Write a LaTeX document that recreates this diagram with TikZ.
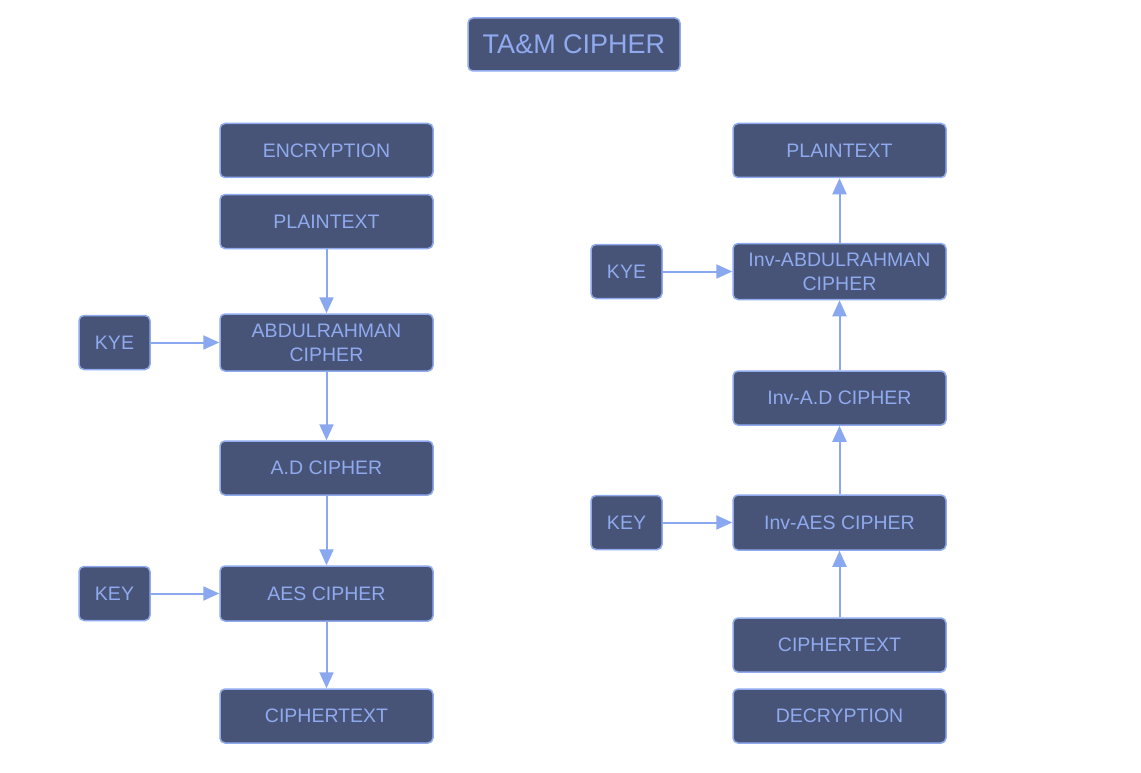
\documentclass[tikz,border=0pt]{standalone}
\usepackage{fontspec}
\setmainfont{Liberation Sans}
\usetikzlibrary{arrows.meta}
\definecolor{boxfill}{HTML}{485477}
\definecolor{boxtext}{HTML}{8FAAEE}
\definecolor{arrowc}{HTML}{8AA8F0}
\begin{document}
\begin{tikzpicture}[x=1pt,y=-1pt,
  box/.style={draw=boxtext, line width=1.5pt, fill=boxfill, rounded corners=5pt, text=boxtext,
    font=\fontsize{19.5}{24}\selectfont, align=center, inner sep=0pt},
  wide/.style={box, minimum width=213pt, minimum height=54pt},
  small/.style={box, minimum width=71pt, minimum height=54pt},
  arr/.style={draw=arrowc, line width=2pt, -{Triangle[length=16pt,width=14pt]}}]
\useasboundingbox (0,0) rectangle (1141,773);
\fill[white] (0,0) rectangle (1141,773);

\node[box, minimum width=212pt, minimum height=53pt, font=\fontsize{27}{32}\selectfont] (title) at (574,44.5) {TA\&M CIPHER};

% Encryption column
\node[wide] (enc) at (326.5,150.5) {ENCRYPTION};
\node[wide] (pt1) at (326.5,221.5) {PLAINTEXT};
\node[wide, minimum height=57pt] (abd) at (326.5,342.5) {ABDULRAHMAN\\CIPHER};
\node[wide] (ad) at (326.5,468) {A.D CIPHER};
\node[wide, minimum height=55pt] (aes) at (326.5,593.5) {AES CIPHER};
\node[wide] (ct1) at (326.5,716) {CIPHERTEXT};
\node[small] (kye1) at (114.5,342.5) {KYE};
\node[small] (key1) at (114.5,593.5) {KEY};

\draw[arr] (pt1) -- (abd);
\draw[arr] (abd) -- (ad);
\draw[arr] (ad) -- (aes);
\draw[arr] (aes) -- (ct1);
\draw[arr] (kye1) -- (abd);
\draw[arr] (key1) -- (aes);

% Decryption column
\node[wide] (pt2) at (839.5,150.5) {PLAINTEXT};
\node[wide, minimum height=56pt] (iabd) at (839.5,271.5) {Inv-ABDULRAHMAN\\CIPHER};
\node[wide] (iad) at (839.5,398) {Inv-A.D CIPHER};
\node[wide, minimum height=55pt] (iaes) at (839.5,522.5) {Inv-AES CIPHER};
\node[wide] (ct2) at (839.5,645) {CIPHERTEXT};
\node[wide] (dec) at (839.5,716) {DECRYPTION};
\node[small] (kye2) at (626.5,271.5) {KYE};
\node[small] (key2) at (626.5,522.5) {KEY};

\draw[arr] (ct2) -- (iaes);
\draw[arr] (iaes) -- (iad);
\draw[arr] (iad) -- (iabd);
\draw[arr] (iabd) -- (pt2);
\draw[arr] (kye2) -- (iabd);
\draw[arr] (key2) -- (iaes);
\end{tikzpicture}
\end{document}
